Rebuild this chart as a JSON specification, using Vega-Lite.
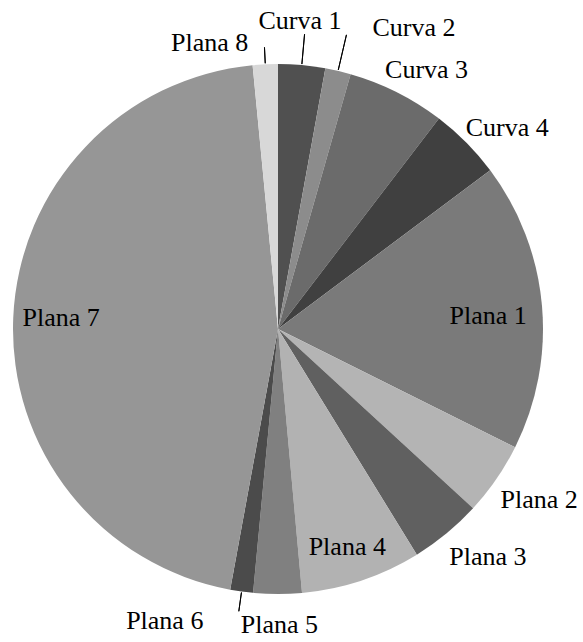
{
  "$schema": "https://vega.github.io/schema/vega-lite/v6.json",
  "width": 556,
  "height": 626,
  "autosize": {"type": "none"},
  "padding": {"left": 0, "top": 16, "right": 27, "bottom": 0},
  "background": "white",
  "data": {
    "values": [
      {"name": "Curva 1", "value": 10.3},
      {"name": "Curva 2", "value": 5.6},
      {"name": "Curva 3", "value": 21.5},
      {"name": "Curva 4", "value": 15.8},
      {"name": "Plana 1", "value": 63.3},
      {"name": "Plana 2", "value": 16.1},
      {"name": "Plana 3", "value": 15.8},
      {"name": "Plana 4", "value": 26.4},
      {"name": "Plana 5", "value": 10.6},
      {"name": "Plana 6", "value": 5.0},
      {"name": "Plana 7", "value": 164.1},
      {"name": "Plana 8", "value": 5.5}
    ]
  },
  "encoding": {
    "theta": {"field": "value", "type": "quantitative", "stack": true}
  },
  "layer": [
    {
      "mark": {"type": "arc", "outerRadius": 265},
      "encoding": {
        "color": {
          "field": "name",
          "type": "nominal",
          "legend": null,
          "scale": {
            "domain": ["Curva 1", "Curva 2", "Curva 3", "Curva 4", "Plana 1", "Plana 2", "Plana 3", "Plana 4", "Plana 5", "Plana 6", "Plana 7", "Plana 8"],
            "range": ["#505050", "#8c8c8c", "#6b6b6b", "#404040", "#7a7a7a", "#b4b4b4", "#606060", "#b2b2b2", "#808080", "#4b4b4b", "#969696", "#d8d8d8"]
          }
        }
      }
    },
    {"mark": {"type": "arc", "radius": 296, "radius2": 266, "padAngle": 0.5, "fill": "#000000", "fillOpacity": 0, "stroke": "#000000", "strokeWidth": 1},
     "encoding": {"strokeOpacity": {"condition": {"test": "datum.name === 'Curva 1'", "value": 1}, "value": 0}}},
    {"mark": {"type": "arc", "radius": 302, "radius2": 266, "padAngle": 0.5, "fill": "#000000", "fillOpacity": 0, "stroke": "#000000", "strokeWidth": 1},
     "encoding": {"strokeOpacity": {"condition": {"test": "datum.name === 'Curva 2'", "value": 1}, "value": 0}}},
    {"mark": {"type": "arc", "radius": 282, "radius2": 266, "padAngle": 0.5, "fill": "#000000", "fillOpacity": 0, "stroke": "#000000", "strokeWidth": 1},
     "encoding": {"strokeOpacity": {"condition": {"test": "datum.name === 'Plana 8'", "value": 1}, "value": 0}}},
    {"mark": {"type": "arc", "radius": 285, "radius2": 266, "padAngle": 0.5, "fill": "#000000", "fillOpacity": 0, "stroke": "#000000", "strokeWidth": 1},
     "encoding": {"strokeOpacity": {"condition": {"test": "datum.name === 'Plana 6'", "value": 1}, "value": 0}}},
    {"mark": {"type": "text", "radius": 300, "dx": -5, "dy": -9},
     "encoding": {"text": {"condition": {"test": "datum.name === 'Curva 1'", "field": "name"}, "value": ""}}},
    {"mark": {"type": "text", "radius": 300, "dx": 68, "dy": -9},
     "encoding": {"text": {"condition": {"test": "datum.name === 'Curva 2'", "field": "name"}, "value": ""}}},
    {"mark": {"type": "text", "radius": 300, "dx": 14, "dy": 9},
     "encoding": {"text": {"condition": {"test": "datum.name === 'Curva 3'", "field": "name"}, "value": ""}}},
    {"mark": {"type": "text", "radius": 300, "dx": 16, "dy": 10},
     "encoding": {"text": {"condition": {"test": "datum.name === 'Curva 4'", "field": "name"}, "value": ""}}},
    {"mark": {"type": "text", "radius": 210, "dx": 1, "dy": 6},
     "encoding": {"text": {"condition": {"test": "datum.name === 'Plana 1'", "field": "name"}, "value": ""}}},
    {"mark": {"type": "text", "radius": 300, "dx": 14, "dy": 1},
     "encoding": {"text": {"condition": {"test": "datum.name === 'Plana 2'", "field": "name"}, "value": ""}}},
    {"mark": {"type": "text", "radius": 300, "dx": 19, "dy": -3},
     "encoding": {"text": {"condition": {"test": "datum.name === 'Plana 3'", "field": "name"}, "value": ""}}},
    {"mark": {"type": "text", "radius": 210, "dx": 3, "dy": 19},
     "encoding": {"text": {"condition": {"test": "datum.name === 'Plana 4'", "field": "name"}, "value": ""}}},
    {"mark": {"type": "text", "radius": 300, "dx": 2, "dy": -4},
     "encoding": {"text": {"condition": {"test": "datum.name === 'Plana 5'", "field": "name"}, "value": ""}}},
    {"mark": {"type": "text", "radius": 300, "dx": -72, "dy": -5},
     "encoding": {"text": {"condition": {"test": "datum.name === 'Plana 6'", "field": "name"}, "value": ""}}},
    {"mark": {"type": "text", "radius": 210, "dx": -7, "dy": -2},
     "encoding": {"text": {"condition": {"test": "datum.name === 'Plana 7'", "field": "name"}, "value": ""}}},
    {"mark": {"type": "text", "radius": 300, "dx": -54, "dy": 14},
     "encoding": {"text": {"condition": {"test": "datum.name === 'Plana 8'", "field": "name"}, "value": ""}}}
  ],
  "config": {
    "view": {"stroke": null},
    "text": {"font": "Liberation Serif", "fontSize": 26, "fill": "#000000", "align": "center", "baseline": "middle"}
  }
}
